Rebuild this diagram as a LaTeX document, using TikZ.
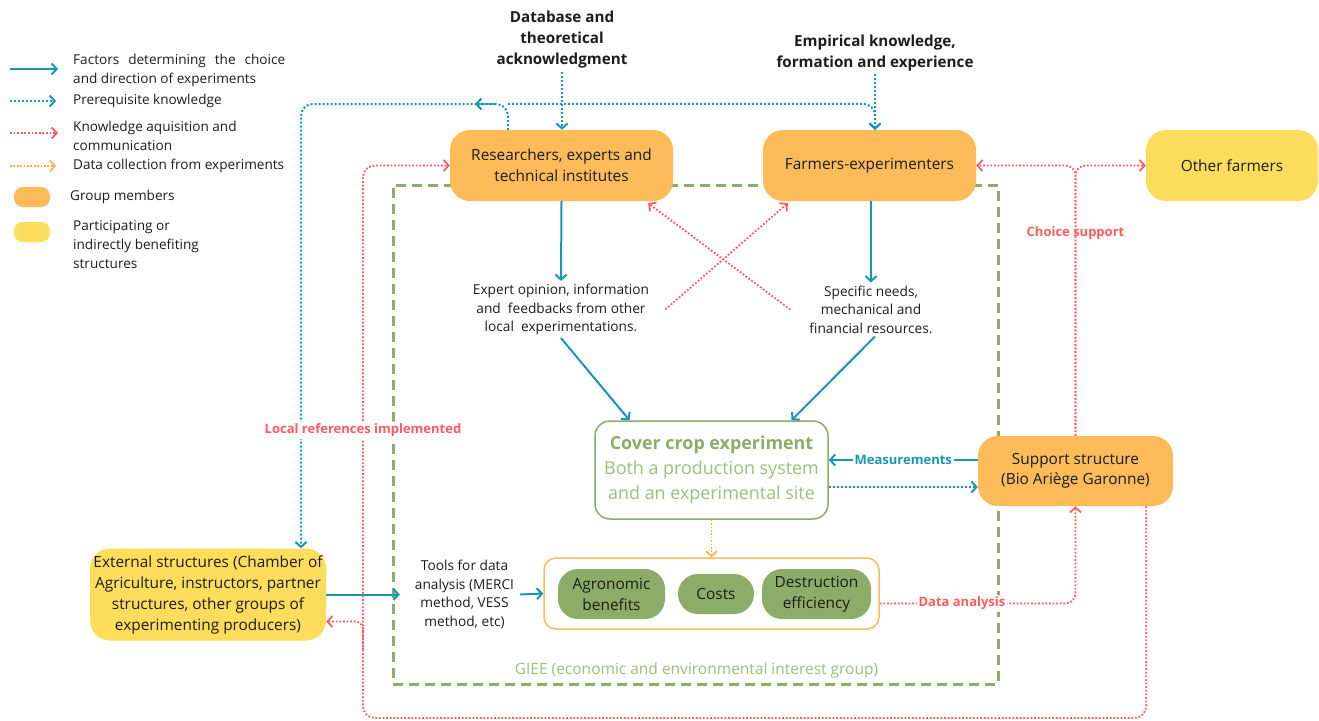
\documentclass[tikz,border=0pt]{standalone}
\usepackage{fontspec}
\setmainfont{Open Sans}
\usetikzlibrary{arrows.meta}
\definecolor{tealc}{RGB}{22,152,178}
\definecolor{redc}{RGB}{255,92,98}
\definecolor{orangef}{RGB}{253,187,90}
\definecolor{oranged}{RGB}{252,178,72}
\definecolor{yellowf}{RGB}{255,221,92}
\definecolor{greenc}{RGB}{139,173,104}
\definecolor{greenl}{RGB}{155,192,122}
\definecolor{txt}{RGB}{28,28,28}
\newcommand{\fsz}[2]{\fontsize{#1}{#2}\selectfont}
\begin{document}
\begin{tikzpicture}[x=1pt,y=-1pt,
  tip/.style={-{Straight Barb[length=5pt,width=11pt]}},
  tsolid/.style={draw=tealc,line width=2pt,tip},
  tdot/.style={draw=tealc,line width=2pt,dash pattern=on 2pt off 2pt,tip},
  rdot/.style={draw=redc,line width=1.8pt,dash pattern=on 1.8pt off 1.8pt,tip},
  odot/.style={draw=oranged,line width=1.7pt,dash pattern=on 1.7pt off 1.7pt,tip},
  box/.style={rounded corners=20pt,inner sep=0pt,align=center,text=txt,font=\fsz{15.4}{21}},
  grp/.style={box,fill=orangef},
  part/.style={box,fill=yellowf},
  gbox/.style={box,fill=greenc},
  plain/.style={inner sep=3pt,align=center,text=txt,font=\fsz{13.7}{18.5}},
  ttl/.style={inner sep=3pt,align=center,text=txt,font=\bfseries\fsz{15.2}{21}},
  lbl/.style={fill=white,inner sep=2pt,font=\bfseries\fsz{13}{16}},
  leg/.style={anchor=west,inner sep=0pt,align=left,text=txt,font=\fsz{13.6}{19}},
  swatch/.style={rounded corners=9pt,minimum width=36pt,minimum height=20pt,inner sep=0pt}
]
\useasboundingbox (0,0) rectangle (1319,720);

% ---------- legend ----------
\coordinate (l1a) at (10,69);  \coordinate (l1b) at (58,69);
\coordinate (l2a) at (10,101); \coordinate (l2b) at (56,101);
\coordinate (l3a) at (10,133); \coordinate (l3b) at (58,133);
\coordinate (l4a) at (10,166); \coordinate (l4b) at (56,166);
\draw[tsolid] (l1a) -- (l1b);
\draw[tdot] (l2a) -- (l2b);
\draw[rdot] (l3a) -- (l3b);
\draw[odot] (l4a) -- (l4b);
\node[leg] (lt1) at (73,70.5) {\makebox[212pt][s]{Factors determining the choice}\\and direction of experiments};
\node[leg] (lt2) at (73,101) {Prerequisite knowledge};
\node[leg] (lt3) at (73,135.5) {Knowledge aquisition and\\communication};
\node[leg] (lt4) at (73,166) {Data collection from experiments};
\node[swatch,fill=orangef] (sw1) at (32,197) {};
\node[leg] (lt5) at (70,197) {Group members};
\node[swatch,fill=yellowf] (sw2) at (32,232) {};
\node[leg] (lt6) at (73,245) {Participating or\\indirectly benefiting\\structures};

% ---------- GIEE container ----------
\node[draw=greenc,line width=3pt,dash pattern=on 10pt off 6pt,minimum width=605pt,minimum height=499pt,inner sep=0pt] (giee) at (695.5,434.5) {};
\node[inner sep=0pt,text=greenl,font=\fsz{15.5}{18}] (gieelbl) at (696.5,670) {GIEE (economic and environmental interest group)};

% ---------- titles ----------
\node[ttl] (db) at (562,40) {Database and\\theoretical\\acknowledgment};
\node[ttl] (emp) at (875,53) {Empirical knowledge,\\formation and experience};

% ---------- main boxes ----------
\node[grp,minimum width=223pt,minimum height=71pt] (res) at (561.5,165.5) {Researchers, experts and\\technical institutes};
\node[grp,minimum width=213pt,minimum height=71pt] (farm) at (869.5,165.5) {Farmers-experimenters};
\node[part,minimum width=172pt,minimum height=71pt] (other) at (1232,165.5) {Other farmers};
\node[grp,minimum width=195pt,minimum height=70pt,font=\fsz{15.4}{20}] (sup) at (1075.5,471) {Support structure\\(Bio Ariège Garonne)};
\node[part,minimum width=236pt,minimum height=92pt] (ext) at (208,594.5) {External structures (Chamber of\\Agriculture, instructors, partner\\structures, other groups of\\experimenting producers)};

\node[plain] (expert) at (561,309.5) {Expert opinion, information\\and\ \ feedbacks from other\\local\ \ experimentations.};
\node[plain] (spec) at (871,309.5) {Specific needs,\\mechanical and\\financial resources.};

\node[draw=greenc,line width=1.5pt,fill=white,rounded corners=15pt,minimum width=233pt,minimum height=98pt,inner sep=0pt,align=center,font=\fsz{17.9}{25},text=greenl] (cov) at (711.5,470) {{\bfseries\color{greenc}Cover crop experiment}\\Both a production system\\and an experimental site};

\node[draw=orangef,line width=1.5pt,rounded corners=12pt,minimum width=335pt,minimum height=71pt,inner sep=0pt] (ob) at (711.5,593.5) {};
\node[gbox,minimum width=107pt,minimum height=50pt] (agro) at (611.5,594) {Agronomic\\benefits};
\node[gbox,minimum width=76pt,minimum height=40pt] (cost) at (716,594) {Costs};
\node[gbox,minimum width=109pt,minimum height=50pt] (destr) at (816.5,594) {Destruction\\efficiency};

\node[plain,inner sep=6pt] (tools) at (464.5,594.5) {Tools for data\\analysis (MERCI\\method, VESS\\method, etc)};

% ---------- teal solid ----------
\draw[tsolid] (res.south) -- (expert.north);
\draw[tsolid] (spec.north |- farm.south) -- (spec.north);
\draw[tsolid] (expert.south) -- ([xshift=-82pt]cov.north);
\draw[tsolid] ([xshift=4pt]spec.south) -- ([xshift=80pt]cov.north);
\draw[tsolid] ([yshift=10pt]cov.east -| sup.west) -- node[lbl,text=tealc,pos=0.5]{Measurements} ([yshift=10pt]cov.east);
\draw[tsolid] (ext.east) -- ([xshift=-9pt]tools.west);
\draw[tsolid] (tools.east) -- (ob.west);

% ---------- teal dotted ----------
\draw[tdot] (db.south) -- (db.south |- res.north);
\draw[tdot] (emp.south) -- (emp.south |- farm.north);
\draw[tdot,rounded corners=12pt] ([xshift=-53.5pt]res.north) |- (301,104) -- ([xshift=93pt]ext.north);
\coordinate (mtA) at (495,104);
\coordinate (mtB) at (475,104);
\draw[tdot] (mtA) -- (mtB);
\draw[tdot,rounded corners=12pt] ([xshift=-53.5pt,yshift=26pt]res.north) -| (emp.south |- farm.north);
\draw[tdot] ([yshift=-17pt]cov.east) -- ([yshift=-17pt]cov.east -| sup.west);

% ---------- orange dotted ----------
\draw[odot] (cov.south) -- (ob.north);

% ---------- red dotted ----------
\draw[rdot] ([xshift=13pt]expert.east) -- ([xshift=25pt,yshift=-2pt]farm.south west);
\draw[rdot] ([xshift=-16pt]spec.west) -- ([xshift=-25pt,yshift=-2pt]res.south east);
\draw[rdot,rounded corners=10pt] (sup.north) |- node[lbl,text=redc,pos=0.375]{Choice support} (farm.east);
\draw[rdot,rounded corners=10pt] (sup.north) |- (other.west);
\draw[rdot,rounded corners=10pt] ([yshift=-10pt]ob.east) -| node[lbl,text=redc,pos=0.21]{Data analysis} (sup.south);
\coordinate (rl1) at (363,718);
\coordinate (rl2) at (363,190);
\draw[draw=redc,line width=1.8pt,dash pattern=on 1.8pt off 1.8pt,rounded corners=12pt] ([xshift=-27pt]sup.south east) |- (rl1) -- node[lbl,text=redc,pos=0.545]{Local references implemented} (rl2);
\draw[rdot,rounded corners=12pt] (rl2) |- (res.west);
\coordinate (rb) at (363,650);
\draw[rdot,rounded corners=8pt] (rb) |- ([yshift=-27pt]ext.east);
\end{tikzpicture}
\end{document}
